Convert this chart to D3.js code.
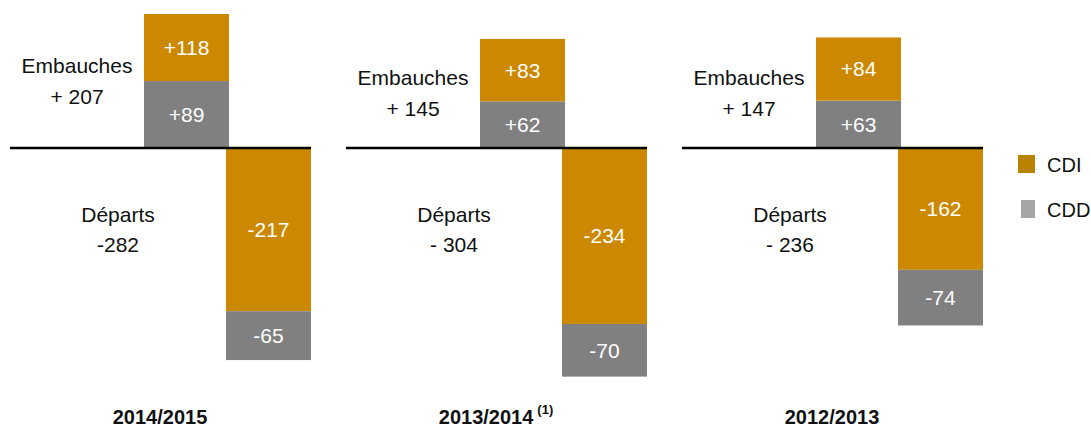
<!DOCTYPE html>
<html>
<head>
<meta charset="utf-8">
<script src="https://cdn.jsdelivr.net/npm/d3@7"></script>
<style>
body { margin: 0; background: #fff; }
svg text { font-family: Arial, "Liberation Sans", sans-serif; }
</style>
</head>
<body>
<div id="chart"></div>
<script>
// values
var periods = ["2014/2015", "2013/2014", "2012/2013"];
var periodNotes = ["", "(1)", ""];
var hiresCDI = [118, 83, 84];
var hiresCDD = [89, 62, 63];
var departCDI = [217, 234, 162];
var departCDD = [65, 70, 74];
var hiresTotals = ["+ 207", "+ 145", "+ 147"];
var departTotals = ["-282", "- 304", "- 236"];
var legendLabels = ["CDI", "CDD"];

var W = 1091, H = 427;
var colCDI = "#cc8800", colCDD = "#808080";
var legCDI = "#b98200", legCDD = "#a6a6a6";

var svg = d3.select("#chart").append("svg")
  .attr("width", W).attr("height", H);

// one band per period
var x = d3.scaleBand()
  .domain(periods)
  .range([10, 1018])
  .padding(0);

// vertical value scale, clamped at the top like the original (first bar is cut)
var k = 0.752, y0 = 148;
var y = d3.scaleLinear()
  .domain([-340, (y0 - 14) / k])
  .range([y0 + 340 * k, 14])
  .clamp(true);

var barW = 85;

var data = periods.map(function(p, i) {
  return {
    period: p, note: periodNotes[i],
    hCDD: hiresCDD[i], hCDI: hiresCDI[i],
    dCDI: departCDI[i], dCDD: departCDD[i],
    hTot: hiresTotals[i], dTot: departTotals[i]
  };
});

var g = svg.selectAll("g.panel")
  .data(data)
  .enter().append("g")
    .attr("class", "panel")
    .attr("transform", function(d) { return "translate(" + x(d.period) + ",0)"; });

// build segments: hires (CDD at bottom, CDI on top), departures (CDI first, CDD under)
function segs(d) {
  return [
    {x: 134, a: 0, b: d.hCDD, fill: colCDD, txt: "+" + d.hCDD},
    {x: 134, a: d.hCDD, b: d.hCDD + d.hCDI, fill: colCDI, txt: "+" + d.hCDI},
    {x: 216, a: 0, b: -d.dCDI, fill: colCDI, txt: "-" + d.dCDI},
    {x: 216, a: -d.dCDI, b: -d.dCDI - d.dCDD, fill: colCDD, txt: "-" + d.dCDD}
  ];
}

g.selectAll("rect.seg")
  .data(segs)
  .enter().append("rect")
    .attr("class", "seg")
    .attr("x", function(s) { return s.x; })
    .attr("y", function(s) { return Math.min(y(s.a), y(s.b)); })
    .attr("width", barW)
    .attr("height", function(s) { return Math.abs(y(s.a) - y(s.b)); })
    .attr("fill", function(s) { return s.fill; });

g.selectAll("text.seg")
  .data(segs)
  .enter().append("text")
    .attr("class", "seg")
    .attr("x", function(s) { return s.x + barW / 2; })
    .attr("y", function(s) { return (y(s.a) + y(s.b)) / 2; })
    .attr("dy", "0.35em")
    .attr("text-anchor", "middle")
    .attr("fill", "#fff")
    .style("font-size", "21px")
    .text(function(s) { return s.txt; });

// baseline
g.append("line")
  .attr("x1", 0).attr("x2", 301)
  .attr("y1", y(0)).attr("y2", y(0))
  .attr("stroke", "#000")
  .attr("stroke-width", 2.5);

// hires label, centred on the hires bar
g.append("text")
  .attr("x", 67)
  .attr("text-anchor", "middle")
  .style("font-size", "21px")
  .attr("fill", "#111")
  .each(function(d) {
    var mid = (y(0) + y(d.hCDD + d.hCDI)) / 2;
    var t = d3.select(this);
    t.append("tspan").attr("x", 67).attr("y", mid - 8).text("Embauches");
    t.append("tspan").attr("x", 67).attr("y", mid + 23).text(d.hTot);
  });

// departures label
g.append("text")
  .attr("text-anchor", "middle")
  .style("font-size", "21px")
  .attr("fill", "#111")
  .each(function(d) {
    var t = d3.select(this);
    t.append("tspan").attr("x", 108).attr("y", 222).text("Départs");
    t.append("tspan").attr("x", 108).attr("y", 252).text(d.dTot);
  });

// period label
g.append("text")
  .attr("x", 150).attr("y", 424)
  .attr("text-anchor", "middle")
  .style("font-size", "20px")
  .style("font-weight", "bold")
  .attr("fill", "#111")
  .each(function(d) {
    var t = d3.select(this);
    t.append("tspan").text(d.period);
    if (d.note) {
      t.append("tspan").attr("dx", 4).attr("dy", -10)
        .style("font-size", "13px").text(d.note);
    }
  });

// legend
var leg = svg.selectAll("g.legend")
  .data(legendLabels)
  .enter().append("g")
    .attr("class", "legend")
    .attr("transform", function(d, i) { return "translate(0," + (i * 45) + ")"; });

leg.append("rect")
  .attr("x", function(d, i) { return i === 0 ? 1018 : 1021; })
  .attr("y", 155)
  .attr("width", function(d, i) { return i === 0 ? 17 : 14; })
  .attr("height", 18)
  .attr("fill", function(d, i) { return i === 0 ? legCDI : legCDD; });

leg.append("text")
  .attr("x", 1047).attr("y", 172)
  .style("font-size", "20px")
  .attr("fill", "#111")
  .text(function(d) { return d; });
</script>
</body>
</html>
